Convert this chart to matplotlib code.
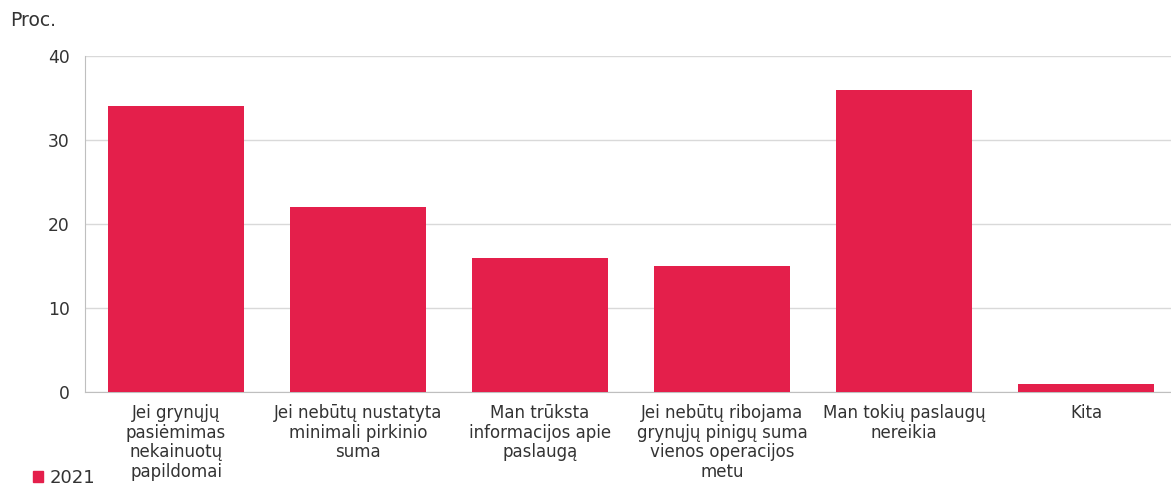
import matplotlib.pyplot as plt
from matplotlib.patches import Patch

categories = [
    "Jei grynųjų\npasiėmimas\nnekainuotų\npapildomai",
    "Jei nebūtų nustatyta\nminimali pirkinio\nsuma",
    "Man trūksta\ninformacijos apie\npaslaugą",
    "Jei nebūtų ribojama\ngrynųjų pinigų suma\nvienos operacijos\nmetu",
    "Man tokių paslaugų\nnereikia",
    "Kita",
]
values_2021 = [34, 22, 16, 15, 36, 1]
yticks = [0, 10, 20, 30, 40]

BAR_COLOR = "#E41F4B"
TEXT_COLOR = "#333333"

plt.rcParams["font.family"] = ["DejaVu Sans"]

fig = plt.figure(figsize=(11.71, 4.88), dpi=100)
ax = fig.add_axes([85 / 1171, 1 - 392 / 488, 1092 / 1171, 336 / 488])

x = list(range(len(categories)))
ax.bar(x, values_2021, width=0.75, color=BAR_COLOR, zorder=3)

ax.set_xlim(-0.5, len(categories) - 0.5)
ax.set_ylim(0, 40)
ax.set_yticks(yticks)
ax.set_yticklabels([str(t) for t in yticks], fontsize=12.3, color=TEXT_COLOR)
ax.set_xticks(x)
ax.set_xticklabels(categories, fontsize=12, color=TEXT_COLOR, linespacing=1.1)
ax.tick_params(axis="y", length=0, pad=11)
ax.tick_params(axis="x", length=0, pad=9)

ax.grid(axis="y", color="#d9d9d9", linewidth=1, zorder=0)
for side in ["top", "right"]:
    ax.spines[side].set_visible(False)
ax.spines["left"].set_color("#bfbfbf")
ax.spines["bottom"].set_color("#bfbfbf")

fig.text(10 / 1171, 1 - 20 / 488, "Proc.", fontsize=13.5, color=TEXT_COLOR, va="center")

fig.legend(
    handles=[Patch(color=BAR_COLOR, label="2021")],
    loc="center left",
    bbox_to_anchor=(20 / 1171, 1 - 478 / 488),
    frameon=False,
    fontsize=13,
    handlelength=0.6,
    handleheight=0.6,
    handletextpad=0.35,
    borderpad=0.2,
    labelcolor=TEXT_COLOR,
)

fig.savefig("out.png", dpi=100)
